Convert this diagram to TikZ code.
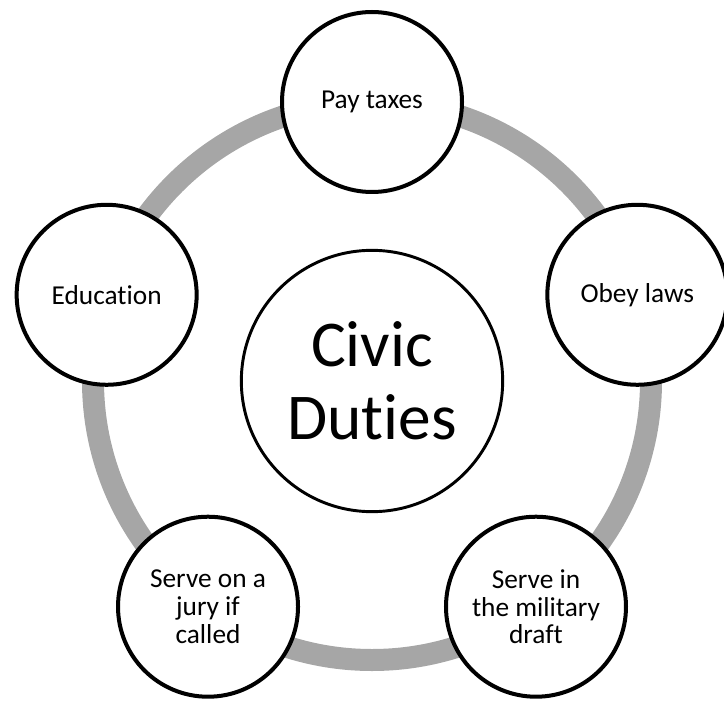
\documentclass[tikz,border=0pt]{standalone}
\usepackage{fontspec}
\setmainfont{Carlito}[Ligatures=NoCommon]
\usetikzlibrary{positioning}
\definecolor{ringgray}{RGB}{166,166,166}

\begin{document}
\begin{tikzpicture}[x=0.75pt,y=-0.75pt,ring/.style={draw=ringgray,line width=16.5pt},duty/.style={circle,draw=black,fill=white,line width=3pt,minimum size=135pt,inner sep=0pt,align=center,font=\fontsize{20.5}{20.8}\selectfont},hub/.style={circle,draw=black,fill=white,line width=2.2pt,minimum size=196pt,inner sep=0pt,align=center,font=\fontsize{49}{55}\selectfont},]
        \useasboundingbox (0,0) rectangle (724,702);
        \coordinate (mid) at (372,381);
        \draw[ring] (mid) circle (209.25pt);

        \node[hub] (duties) at (mid) {Civic\\Duties};

        \path (mid) ++(90:209.25pt) node[duty] (tax) {Pay taxes};
        \path (mid) ++(18:209.25pt) node[duty] (laws) {Obey laws};
        \path (mid) ++(-54:209.25pt) node[duty] (draft) {Serve in\\the military\\draft};
        \path (mid) ++(-126:209.25pt) node[duty] (jury) {Serve on a\\jury if\\called};
        \path (mid) ++(162:209.25pt) node[duty] (edu) {Education};
    \end{tikzpicture}
\end{document}
